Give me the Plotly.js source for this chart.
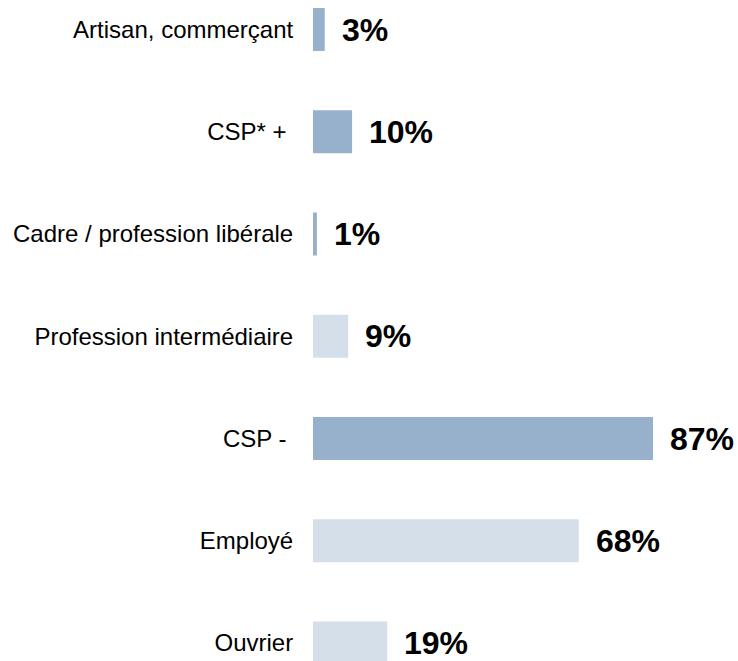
<!DOCTYPE html>
<html>
<head>
<meta charset="utf-8">
<script src="https://cdn.plot.ly/plotly-3.0.1.min.js"></script>
<style>html,body{margin:0;padding:0;background:#fff;}#chart{width:738px;height:661px;}</style>
</head>
<body>
<div id="chart"></div>
<script>
const categories = ["Artisan, commerçant", "CSP* +\u00A0", "Cadre / profession libérale", "Profession intermédiaire", "CSP -\u00A0", "Employé", "Ouvrier"];
const values = [3, 10, 1, 9, 87, 68, 19];
const valueLabels = ["3%", "10%", "1%", "9%", "87%", "68%", "19%"];
const barColors = ["#97B0CB", "#97B0CB", "#97B0CB", "#D5DFE9", "#97B0CB", "#D5DFE9", "#D5DFE9"];

const trace = {
  type: "bar",
  orientation: "h",
  y: categories,
  x: values,
  marker: {color: barColors, line: {width: 0}},
  hoverinfo: "none"
};

const annotations = categories.map((c, i) => ({
  x: values[i], y: c, xref: "x", yref: "y",
  text: "<b>" + valueLabels[i] + "</b>",
  showarrow: false, xanchor: "left", yanchor: "middle", xshift: 15,
  font: {family: "Arial, 'Liberation Sans', sans-serif", size: 32, color: "#000"}
}));

const layout = {
  width: 738, height: 661,
  margin: {l: 313, r: 0, t: 0, b: 0, pad: 0},
  paper_bgcolor: "#fff", plot_bgcolor: "#fff",
  showlegend: false,
  bargap: 0.58,
  xaxis: {range: [0, 108.75], visible: false, fixedrange: true},
  yaxis: {
    type: "category",
    range: [6.176, -0.2885],
    showgrid: false, zeroline: false, showline: false,
    ticks: "outside", ticklen: 14, tickcolor: "rgba(0,0,0,0)",
    tickfont: {family: "Arial, 'Liberation Sans', sans-serif", size: 24, color: "#000"},
    automargin: false
  },
  annotations: annotations
};

Plotly.newPlot("chart", [trace], layout, {displayModeBar: false, staticPlot: true});
</script>
</body>
</html>
